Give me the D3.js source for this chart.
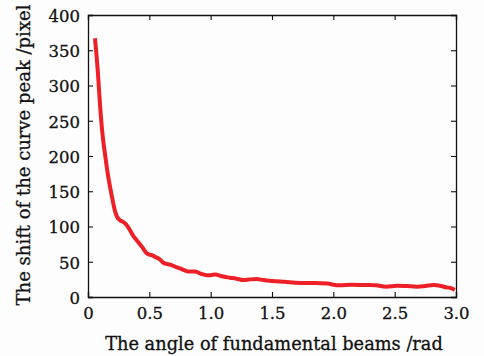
<!DOCTYPE html>
<html><head><meta charset="utf-8">
<script src="https://cdn.jsdelivr.net/npm/d3@7"></script>
<style>body{margin:0;background:#fdfdfd;}svg{display:block;}text{font-family:"DejaVu Serif",serif;fill:#111;}</style>
</head><body><div id="c"></div>
<script>
const angle = [0.057,0.08,0.1,0.12,0.14,0.16,0.18,0.2,0.22,0.236,0.26,0.283,0.305,0.323,0.345,0.364,0.39,0.418,0.445,0.473,0.5,0.527,0.546,0.58,0.614,0.64,0.67,0.71,0.75,0.785,0.818,0.872,0.92,0.967,1.0,1.035,1.1,1.157,1.21,1.266,1.32,1.375,1.43,1.5,1.6,1.73,1.85,1.95,2.05,2.15,2.27,2.35,2.43,2.52,2.6,2.68,2.75,2.815,2.88,2.92,2.96,2.99];
const shift = [367,320,268,228,201,176,156,138,122,114,109,107,104,100,94,88,82,76,70,63,60,59,57,54,48.7,47,46,43,40.5,38,36,36,33,31,31,32,29,27.4,26,24,25,25.5,24,22.7,21.5,20,20,19,16.5,17.5,17,16.5,14.7,16,15.5,14.7,15.5,17,15.5,13.7,12.5,10];
const xTicks = [0,0.5,1.0,1.5,2.0,2.5,3.0];
const xTickLabels = ["0","0.5","1.0","1.5","2.0","2.5","3.0"];
const yTicks = [0,50,100,150,200,250,300,350,400];
const xTitle = "The angle of fundamental beams /rad";
const yTitle = "The shift of the curve peak /pixel";

const W=484,H=356, m={l:88,r:28,t:15,b:59};
const svg=d3.select("#c").append("svg").attr("width",W).attr("height",H);
const x=d3.scaleLinear().domain([0,3]).range([m.l,W-m.r]);
const y=d3.scaleLinear().domain([0,400]).range([H-m.b,m.t]);
const fs=16.5;
const gB=svg.append("g").attr("transform",`translate(0,${y(0)})`)
 .call(d3.axisBottom(x).tickValues(xTicks).tickSize(-5).tickPadding(10).tickFormat((d,i)=>xTickLabels[i]));
const gT=svg.append("g").attr("transform",`translate(0,${y(400)})`)
 .call(d3.axisTop(x).tickValues(xTicks).tickSize(-5).tickFormat(""));
const gL=svg.append("g").attr("transform",`translate(${x(0)},0)`)
 .call(d3.axisLeft(y).tickValues(yTicks).tickSize(-5).tickPadding(8));
const gR=svg.append("g").attr("transform",`translate(${x(3)},0)`)
 .call(d3.axisRight(y).tickValues(yTicks).tickSize(-5).tickFormat(""));
[gB,gT,gL,gR].forEach(g=>{g.select(".domain").attr("stroke","#111").attr("stroke-width",1.3);
 g.selectAll(".tick line").attr("stroke","#111").attr("stroke-width",1.1);
 g.selectAll("text").attr("font-family","DejaVu Serif").attr("font-size",fs).attr("fill","#111")
  .attr("stroke","#111").attr("stroke-width",0.3);});
gL.selectAll(".tick text").attr("dy","0.38em");
svg.append("path").datum(angle.map((a,i)=>[a,shift[i]]))
 .attr("fill","none").attr("stroke","#ee2027").attr("stroke-width",4).attr("stroke-linejoin","round").attr("stroke-linecap","butt")
 .attr("d",d3.line().x(d=>x(d[0])).y(d=>y(d[1])).curve(d3.curveMonotoneX));
svg.append("text").attr("x",(x(0)+x(3))/2+2).attr("y",350).attr("text-anchor","middle").attr("font-size",17.8)
 .attr("stroke","#111").attr("stroke-width",0.3).text(xTitle);
svg.append("text").attr("transform",`translate(30,${(y(0)+y(400))/2-1}) rotate(-90)`).attr("text-anchor","middle").attr("font-size",18)
 .attr("stroke","#111").attr("stroke-width",0.3).text(yTitle);
</script></body></html>
